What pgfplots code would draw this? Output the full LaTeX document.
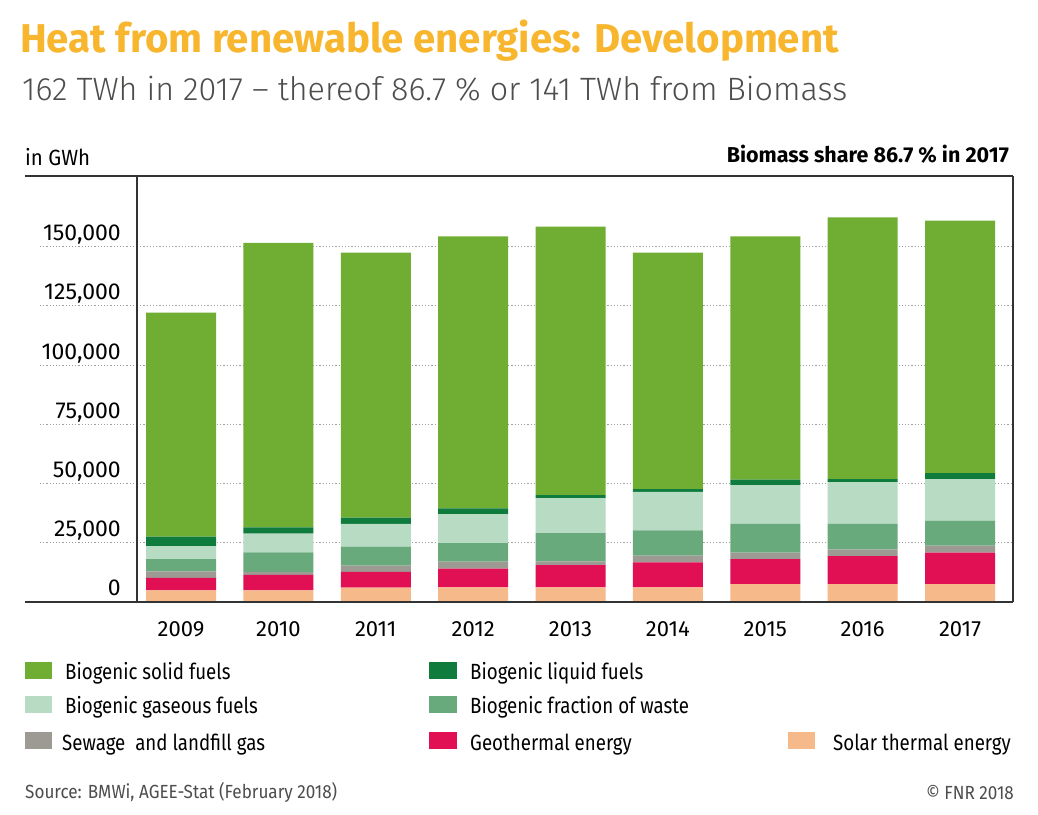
\documentclass[border=0pt]{standalone}
\usepackage{fontspec}
\setmainfont{Fira Sans}
\newfontfamily\firalight{Fira Sans Light}
\newfontfamily\cond{Fira Sans}[FakeStretch=0.85]
\newfontfamily\condb{Fira Sans}[FakeStretch=0.9]
\newfontfamily\condc{Fira Sans}[FakeStretch=0.93]
\usepackage{pgfplots}
\pgfplotsset{compat=1.18}
\definecolor{csolar}{HTML}{F6B98A}
\definecolor{cgeo}{HTML}{E11055}
\definecolor{csew}{HTML}{9C9A93}
\definecolor{cwaste}{HTML}{68AA7C}
\definecolor{cgas}{HTML}{B8DBC4}
\definecolor{cliq}{HTML}{0F7C3D}
\definecolor{csolid}{HTML}{6FAE32}
\definecolor{ctitle}{HTML}{F8B62E}
\definecolor{csub}{HTML}{4D4D4B}
\definecolor{cframe}{HTML}{333333}
\begin{document}
\begin{tikzpicture}
\fill[white] (0,0) rectangle (1038pt,814pt);
% titles
\node[anchor=base west,inner sep=0pt,text=ctitle,font=\fontsize{40.2}{40}\selectfont\bfseries] at (20pt,761pt) {Heat from renewable energies: Development};
\node[anchor=base west,inner sep=0pt,text=csub,font=\fontsize{32.3}{32}\selectfont\firalight] at (22pt,713pt) {162 TWh in 2017 \textendash\ thereof 86.7 \% or 141 TWh from Biomass};
\node[anchor=base west,inner sep=0pt,font=\fontsize{22}{22}\selectfont\condc] at (25pt,648pt) {in GWh};
\node[anchor=base east,inner sep=0pt,font=\fontsize{21.5}{22}\selectfont\bfseries] at (1009pt,651pt) {Biomass share 86.7 \% in 2017};
\begin{axis}[
  at={(137pt,212pt)}, anchor=south west,
  scale only axis, width=876pt, height=426pt,
  xmin=-0.452, xmax=8.544, ymin=0, ymax=179800,
  ybar stacked, bar width=70pt,
  clip=false,
  axis line style={draw=none},
  ymajorgrids,
  grid style={color=gray!75, line width=1pt, dash pattern=on 1.2pt off 2pt},
  major tick length=0pt,
  scaled y ticks=false,
  ytick={0,25000,50000,75000,100000,125000,150000},
  xtick={0,1,2,3,4,5,6,7,8},
  xticklabels={2009,2010,2011,2012,2013,2014,2015,2016,2017},
  /pgf/number format/.cd, fixed, 1000 sep={,}, assume math mode=true, /pgfplots/.cd,
  yticklabel style={font=\fontsize{23}{23}\selectfont, anchor=base east, inner sep=0pt, xshift=-16pt, yshift=6pt},
  xticklabel style={font=\fontsize{22}{22}\selectfont, anchor=base, inner sep=0pt, yshift=-34pt},
  every axis plot/.append style={draw=none},
]
\addplot[fill=csolar] coordinates {(0,4900) (1,4900) (2,6100) (3,6200) (4,6200) (5,6200) (6,7500) (7,7500) (8,7500)};
\addplot[fill=cgeo] coordinates {(0,5300) (1,6500) (2,6600) (3,7900) (4,9400) (5,10500) (6,10600) (7,11900) (8,13300)};
\addplot[fill=csew] coordinates {(0,2700) (1,1300) (2,2700) (3,2900) (4,1500) (5,2900) (6,2700) (7,2800) (8,3000)};
\addplot[fill=cwaste] coordinates {(0,5200) (1,8200) (2,8000) (3,7900) (4,12000) (5,10600) (6,12200) (7,10800) (8,10500)};
\addplot[fill=cgas] coordinates {(0,5500) (1,8000) (2,9600) (3,12200) (4,14700) (5,16300) (6,16300) (7,17600) (8,17600)};
\addplot[fill=cliq] coordinates {(0,4000) (1,2600) (2,2600) (3,2400) (4,1300) (5,1100) (6,2400) (7,1300) (8,2500)};
\addplot[fill=csolid] coordinates {(0,94500) (1,120100) (2,111900) (3,114800) (4,113300) (5,99900) (6,102600) (7,110400) (8,106600)};
% left extension of grid lines
\foreach \v in {25000,50000,75000,100000,125000,150000} {
  \edef\tmp{\noexpand\draw[color=gray!75, line width=1pt, dash pattern=on 1.2pt off 2pt] (axis cs:-1.448,\v) -- (axis cs:-0.452,\v);}
  \tmp
}
\end{axis}
% frame
\draw[cframe, line width=1.6pt] (25pt,638pt) -- (1013pt,638pt);
\draw[cframe, line width=1.8pt] (25pt,212pt) -- (1013pt,212pt);
\draw[cframe, line width=1.6pt] (137pt,212pt) -- (137pt,638pt);
\draw[cframe, line width=1.8pt] (1013pt,212pt) -- (1013pt,638pt);
% legend
\begin{scope}[every node/.style={anchor=base west,inner sep=0pt,font=\fontsize{22}{22}\selectfont\cond}]
\fill[csolid] (25pt,135pt) rectangle (52pt,152pt); \node at (65pt,135pt) {Biogenic solid fuels};
\fill[cgas] (25pt,101pt) rectangle (52pt,118pt); \node at (65pt,101pt) {Biogenic gaseous fuels};
\fill[csew] (25pt,65pt) rectangle (52pt,82pt); \node at (62pt,64pt) {Sewage\ \ and landfill gas};
\fill[cliq] (429pt,135pt) rectangle (457pt,152pt); \node at (470pt,135pt) {Biogenic liquid fuels};
\fill[cwaste] (429pt,101pt) rectangle (457pt,118pt); \node at (470pt,101pt) {Biogenic fraction of waste};
\fill[cgeo] (429pt,65pt) rectangle (457pt,82pt); \node at (470pt,64pt) {Geothermal energy};
\fill[csolar] (788pt,65pt) rectangle (815pt,82pt); \node at (833pt,64pt) {Solar thermal energy};
\end{scope}
\node[anchor=base west,inner sep=0pt,text=csub,font=\fontsize{19}{19}\selectfont\condb] at (25pt,16pt) {Source: BMWi, AGEE-Stat (February 2018)};
\node[anchor=base east,inner sep=0pt,text=csub,font=\fontsize{19}{19}\selectfont\condb] at (1014pt,15pt) {\textcopyright\ FNR 2018};
\end{tikzpicture}
\end{document}
